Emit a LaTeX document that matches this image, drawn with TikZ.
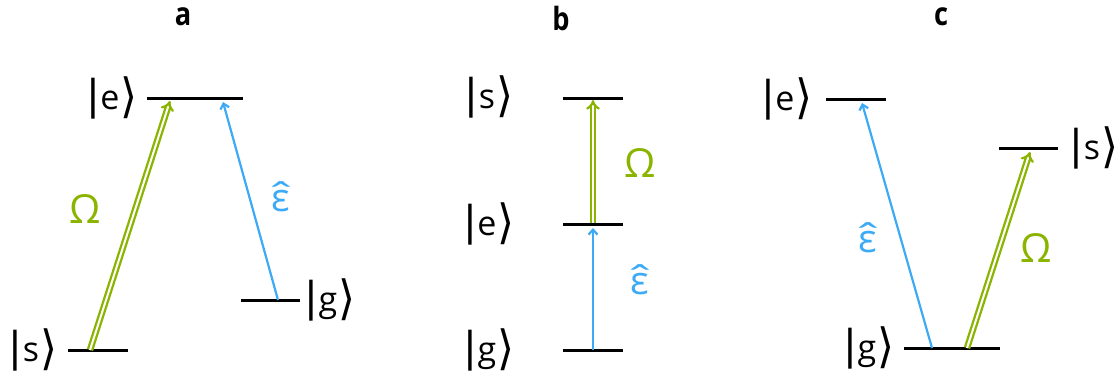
\documentclass[tikz,border=0pt]{standalone}
\usepackage{fontspec}
\setmainfont{Open Sans}
\newfontfamily\brfont{DejaVu Sans}
\usetikzlibrary{arrows.meta}
\definecolor{lgreen}{RGB}{138,180,0}
\definecolor{lblue}{RGB}{60,170,245}
\newcommand{\mybar}{{\brfont\fontsize{41}{41}\selectfont|}}
\newcommand{\mybrk}{\kern1pt\raisebox{-10pt}{\resizebox{17pt}{42pt}{\brfont\raisebox{\depth}{⟩}}}}
\newcommand{\myket}[1]{\mybar#1\mybrk}
\newcommand{\epshat}{\ooalign{ε\cr\hidewidth\raisebox{3pt}{\scalebox{1.4}[0.9]{ˆ}}\hidewidth\cr}}
\tikzset{
  lvl/.style={line width=3pt, black},
  klabel/.style={font=\fontsize{34}{40}\selectfont, inner sep=0pt, anchor=base},
  title/.style={font=\fontsize{32}{36}\selectfont\bfseries, inner sep=0pt, anchor=base},
  omg/.style={lgreen, double=white, double distance=2pt, line width=2.3pt, -{Implies}},
  eps/.style={lblue, line width=2.2pt, -{Straight Barb[length=5pt,width=9pt]}},
  glab/.style={lgreen, font=\fontsize{40}{44}\selectfont, inner sep=0pt},
  blab/.style={lblue, font=\fontsize{39}{44}\selectfont, inner sep=0pt}
}
\begin{document}
\begin{tikzpicture}[x=1pt,y=-1pt]
\useasboundingbox (0,0) rectangle (1119,380);
% titles
\node[title] (ta) at (183,25) {\scalebox{0.85}[1]{a}};
\node[title] (tb) at (561,30) {\scalebox{0.85}[1]{b}};
\node[title] (tc) at (941,25) {\scalebox{0.85}[1]{c}};
% ---- panel a
\coordinate (ae1) at (147,98); \coordinate (ae2) at (243,98);
\coordinate (as1) at (68,350); \coordinate (as2) at (128,350);
\coordinate (ag1) at (241,300); \coordinate (ag2) at (300,300);
\draw[lvl] (ae1) -- (ae2);
\draw[lvl] (as1) -- (as2);
\draw[lvl] (ag1) -- (ag2);
\node[klabel] (lae) at (112,109) {\myket{e}};
\node[klabel] (las) at (33,361) {\myket{s}};
\node[klabel] (lag) at (330,311) {\myket{g}};
\coordinate (aos) at (90,350); \coordinate (aoe) at (170,101);
\coordinate (abg) at (278,300); \coordinate (abe) at (223,102);
\draw[omg] (aos) -- (aoe);
\draw[eps] (abg) -- (abe);
\node[glab] (aO) at (85,209) {Ω};
\node[blab] (aE) at (281,201) {\epshat};
% ---- panel b
\coordinate (bs1) at (563,98); \coordinate (bs2) at (623,98);
\coordinate (be1) at (563,224); \coordinate (be2) at (623,224);
\coordinate (bg1) at (563,350); \coordinate (bg2) at (623,350);
\draw[lvl] (bs1) -- (bs2);
\draw[lvl] (be1) -- (be2);
\draw[lvl] (bg1) -- (bg2);
\node[klabel] (lbs) at (489,108) {\myket{s}};
\node[klabel] (lbe) at (489,235) {\myket{e}};
\node[klabel] (lbg) at (489,361) {\myket{g}};
\coordinate (boe) at (593,223); \coordinate (bos) at (593,100);
\coordinate (bbg) at (593,350); \coordinate (bbe) at (593,228);
\draw[omg] (boe) -- (bos);
\draw[eps] (bbg) -- (bbe);
\node[glab] (bO) at (640,163) {Ω};
\node[blab] (bE) at (640,284) {\epshat};
% ---- panel c
\coordinate (ce1) at (826,99); \coordinate (ce2) at (886,99);
\coordinate (cs1) at (999,148); \coordinate (cs2) at (1058,148);
\coordinate (cg1) at (904,348); \coordinate (cg2) at (1000,348);
\draw[lvl] (ce1) -- (ce2);
\draw[lvl] (cs1) -- (cs2);
\draw[lvl] (cg1) -- (cg2);
\node[klabel] (lce) at (787,110) {\myket{e}};
\node[klabel] (lcs) at (1094,159) {\myket{s}};
\node[klabel] (lcg) at (869,359) {\myket{g}};
\coordinate (cbg) at (932,348); \coordinate (cbe) at (862,103);
\coordinate (cog) at (967,348); \coordinate (cos) at (1030,152);
\draw[eps] (cbg) -- (cbe);
\draw[omg] (cog) -- (cos);
\node[blab] (cE) at (868,242) {\epshat};
\node[glab] (cO) at (1036,248) {Ω};
\end{tikzpicture}
\end{document}
